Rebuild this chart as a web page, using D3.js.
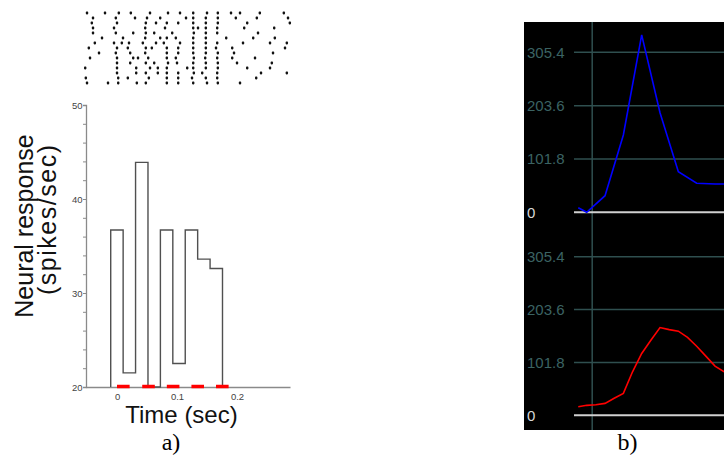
<!DOCTYPE html>
<html>
<head>
<meta charset="utf-8">
<script src="https://cdn.jsdelivr.net/npm/d3@7"></script>
<style>
  html, body { margin: 0; padding: 0; background: #fff; }
  svg { display: block; }
</style>
</head>
<body>
<div id="figure"></div>
<script>
// ---- panel a: histogram (spikes/sec per time bin) ----
const binEdges = [-0.0105, 0.0102, 0.0309, 0.0516, 0.0723, 0.093, 0.1137, 0.1344, 0.1551, 0.1758];
const binRates = [36.7, 21.5, 43.9, 20, 36.7, 22.5, 36.7, 33.6, 32.6];
const stimOn = [[0, 0.021], [0.042, 0.063], [0.083, 0.104], [0.124, 0.145], [0.165, 0.186]];
const yTicksA = [20, 30, 40, 50];
const xTicksA = [0, 0.1, 0.2];

// raster, spike times in ms for each trial (top to bottom)
const trials = [
  [-50, -20, 3, 23, 55, 85, 105, 127, 150, 168, 190, 205, 238, 278],
  [-40, -2, 30, 50, 72, 115, 127, 148, 168, 198, 233, 285],
  [-42, 0, 48, 65, 83, 102, 127, 148, 168, 217, 288],
  [-40, -5, 47, 80, 127, 135, 148, 167, 212, 262],
  [-40, -2, 27, 48, 62, 92, 128, 148, 167, 235],
  [-25, 10, 47, 72, 83, 98, 127, 148, 182, 227, 263],
  [-37, -5, 8, 20, 43, 65, 78, 105, 127, 148, 167, 210, 255, 283],
  [-47, 0, 18, 48, 58, 83, 102, 127, 148, 165, 192, 280],
  [-30, -2, 22, 47, 83, 102, 127, 148, 168, 195, 260],
  [-45, 0, 27, 35, 52, 83, 98, 128, 147, 167, 192, 230],
  [0, 22, 48, 62, 85, 100, 127, 148, 168, 200, 258],
  [-53, 0, 32, 55, 68, 83, 117, 127, 148, 168, 217, 255],
  [0, 32, 48, 68, 83, 102, 128, 142, 167, 240, 283],
  [-52, 2, 18, 53, 83, 102, 125, 148, 167, 232],
  [-50, -15, 2, 33, 48, 83, 102, 127, 150, 168, 205]
];

// ---- panel b: two response traces (x in bins) ----
const blueX = [-0.46, 0, 1, 2, 3, 4, 5, 6, 7, 7.5];
const blueY = [8.8, 0, 31.7, 147.6, 338.6, 190, 77.5, 55.4, 54, 54];
const redX = [-0.46, 0, 0.5, 1, 1.5, 2, 2.5, 3, 3.5, 4, 4.5, 5, 5.5, 6, 6.5, 7, 7.5];
const redY = [16.5, 19.2, 20.4, 23, 32.7, 42.3, 83.8, 119, 144.6, 169, 165, 162, 150, 133, 114, 94.7, 83.8];
const yTicksB = [0, 101.8, 203.6, 305.4];
const onsetBin = 0.3;

const W = 724, H = 465;
const svg = d3.select("#figure").append("svg")
  .attr("width", W)
  .attr("height", H)
  .style("font-family", "'Liberation Sans', Arial, sans-serif");

svg.append("rect").attr("width", W).attr("height", H).attr("fill", "#fff");

// ===== panel a =====
const xA = d3.scaleLinear().domain([-0.0517, 0.2883]).range([86, 290]);
const yA = d3.scaleLinear().domain([20, 50]).range([387, 105]);

// raster
const rowY = d3.scaleLinear().domain([0, trials.length - 1]).range([13, 83]);
const raster = svg.append("g");
trials.forEach((spikes, i) => {
  raster.selectAll(null)
    .data(spikes)
    .enter()
    .append("rect")
    .attr("x", d => xA(d / 1000) - 1.2)
    .attr("y", rowY(i) - 1.4)
    .attr("width", 2.4)
    .attr("height", 2.8)
    .attr("rx", 0.8)
    .attr("fill", "#111");
});

// y axis
svg.append("g")
  .attr("transform", "translate(86,0)")
  .call(d3.axisLeft(yA)
    .tickValues(d3.range(20, 51, 2))
    .tickSize(3)
    .tickPadding(0.5)
    .tickFormat(d => yTicksA.includes(d) ? d : ""))
  .call(g => g.select(".domain").attr("stroke", "#8a8a8a").attr("stroke-width", 1.3))
  .call(g => g.selectAll(".tick line").attr("stroke", "#8a8a8a"))
  .call(g => g.selectAll("text").attr("fill", "#444").style("font-size", "9.5px"));

// x axis
svg.append("g")
  .attr("transform", "translate(0,387)")
  .call(d3.axisBottom(xA)
    .tickValues(xTicksA)
    .tickSize(0)
    .tickPadding(6)
    .tickFormat(d => d === 0 ? "0" : d3.format(".1f")(d)))
  .call(g => g.select(".domain").attr("stroke", "#8a8a8a").attr("stroke-width", 1.5))
  .call(g => g.selectAll("text").attr("fill", "#444").style("font-size", "9.5px"));

// histogram outline
const histPts = [{ t: binEdges[0], v: 20 }]
  .concat(binRates.map((v, i) => ({ t: binEdges[i], v: v })))
  .concat([{ t: binEdges[binEdges.length - 1], v: 20 }]);

svg.append("path")
  .datum(histPts)
  .attr("fill", "none")
  .attr("stroke", "#505050")
  .attr("stroke-width", 1.4)
  .attr("d", d3.line().x(d => xA(d.t)).y(d => yA(d.v)).curve(d3.curveStepAfter));

// stimulus markers
svg.selectAll(".stim")
  .data(stimOn)
  .enter()
  .append("line")
  .attr("x1", d => xA(d[0]))
  .attr("x2", d => xA(d[1]))
  .attr("y1", yA(20) - 0.5)
  .attr("y2", yA(20) - 0.5)
  .attr("stroke", "#ff0000")
  .attr("stroke-width", 3.5);

svg.append("text")
  .attr("x", 181.5)
  .attr("y", 423)
  .attr("text-anchor", "middle")
  .style("font-size", "24px")
  .attr("fill", "#111")
  .text("Time (sec)");

svg.append("text")
  .attr("transform", "translate(33,226) rotate(-90)")
  .attr("text-anchor", "middle")
  .style("font-size", "25px")
  .attr("fill", "#111")
  .text("Neural response");

svg.append("text")
  .attr("transform", "translate(56,220) rotate(-90)")
  .attr("text-anchor", "middle")
  .style("font-size", "25px")
  .attr("fill", "#111")
  .attr("textLength", 150)
  .attr("lengthAdjust", "spacing")
  .text("(spikes/sec)");

// ===== panel b =====
const xB = d3.scaleLinear().domain([0, 1]).range([586.7, 605.03]);
const yTop = d3.scaleLinear().domain([0, 305.4]).range([212.3, 52.3]);
const yBot = d3.scaleLinear().domain([0, 305.4]).range([415.3, 256.7]);

svg.append("rect")
  .attr("x", 524).attr("y", 22)
  .attr("width", 200).attr("height", 408)
  .attr("fill", "#000");

svg.append("line")
  .attr("x1", xB(onsetBin)).attr("x2", xB(onsetBin))
  .attr("y1", 22).attr("y2", 430)
  .attr("stroke", "#2f4f4f")
  .attr("stroke-width", 1.5);

[yTop, yBot].forEach(y => {
  const grid = svg.append("g");
  grid.selectAll("line")
    .data(yTicksB)
    .enter()
    .append("line")
    .attr("x1", 574).attr("x2", 724)
    .attr("y1", d => y(d)).attr("y2", d => y(d))
    .attr("stroke", d => d === 0 ? "#d0d0d0" : "#2f4f4f")
    .attr("stroke-width", d => d === 0 ? 2 : 1.5);

  grid.selectAll("text")
    .data(yTicksB)
    .enter()
    .append("text")
    .attr("x", 527)
    .attr("y", d => y(d))
    .attr("dy", "0.36em")
    .style("font-size", "15px")
    .attr("fill", d => d === 0 ? "#d8d8d8" : "#3b6363")
    .text(d => d === 0 ? "0" : d3.format(".1f")(d));
});

const lineTop = d3.line().x(d => xB(d[0])).y(d => yTop(d[1]));
const lineBot = d3.line().x(d => xB(d[0])).y(d => yBot(d[1]));

svg.append("path")
  .datum(d3.zip(blueX, blueY))
  .attr("fill", "none")
  .attr("stroke", "#0000ff")
  .attr("stroke-width", 1.6)
  .attr("d", lineTop);

svg.append("path")
  .datum(d3.zip(redX, redY))
  .attr("fill", "none")
  .attr("stroke", "#ff0000")
  .attr("stroke-width", 1.6)
  .attr("d", lineBot);

// panel captions
svg.append("text")
  .attr("x", 171).attr("y", 450)
  .attr("text-anchor", "middle")
  .style("font-family", "'Liberation Serif', 'Times New Roman', serif")
  .style("font-size", "24px")
  .attr("fill", "#000")
  .text("a)");

svg.append("text")
  .attr("x", 627.5).attr("y", 450)
  .attr("text-anchor", "middle")
  .style("font-family", "'Liberation Serif', 'Times New Roman', serif")
  .style("font-size", "24px")
  .attr("fill", "#000")
  .text("b)");
</script>
</body>
</html>
